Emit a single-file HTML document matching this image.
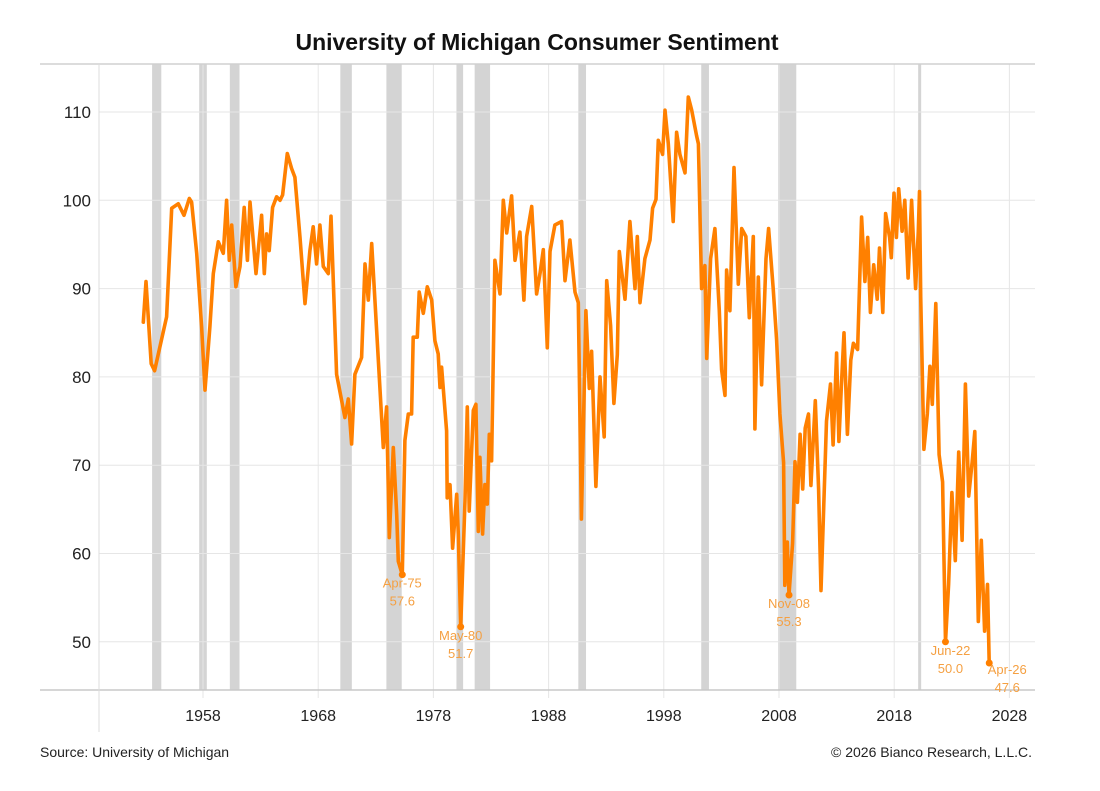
<!DOCTYPE html>
<html><head><meta charset="utf-8"><style>
body{margin:0;background:#fff;font-family:"Liberation Sans",sans-serif}
svg{display:block}
</style></head><body>
<svg id="chart" width="1100" height="791" viewBox="0 0 1100 791" xmlns="http://www.w3.org/2000/svg">
<text x="537" y="50" text-anchor="middle" font-size="23" font-weight="bold" fill="#111">University of Michigan Consumer Sentiment</text>
<g id="rec"></g>
<g id="grid"></g>
<g id="axes"></g>
<g id="series"></g>
<g id="ann"></g>
<text x="40" y="757" font-size="14" fill="#222">Source: University of Michigan</text>
<text x="1032" y="757" text-anchor="end" font-size="14" fill="#222">© 2026 Bianco Research, L.L.C.</text>
</svg>
<script>
const years=[1952.82,1953.05,1953.5,1953.8,1954.26,1954.84,1955.28,1955.86,1956.35,1956.81,1957.01,1957.45,1957.88,1958.17,1958.6,1958.89,1959.33,1959.76,1960.05,1960.28,1960.49,1960.86,1961.21,1961.58,1961.85,1962.08,1962.6,1963.09,1963.32,1963.52,1963.75,1964.04,1964.39,1964.68,1964.91,1965.32,1965.69,1965.98,1966.42,1966.85,1967.28,1967.57,1967.86,1968.15,1968.44,1968.88,1969.11,1969.6,1970.32,1970.61,1970.9,1971.19,1971.77,1972.06,1972.35,1972.64,1973.65,1973.94,1974.17,1974.52,1974.81,1974.95,1975.3,1975.53,1975.82,1976.11,1976.25,1976.6,1976.77,1977.12,1977.47,1977.85,1978.13,1978.42,1978.57,1978.71,1979.15,1979.2,1979.44,1979.67,1980.02,1980.16,1980.37,1980.74,1980.94,1981.11,1981.46,1981.69,1981.9,1982.04,1982.27,1982.47,1982.68,1982.85,1983.05,1983.34,1983.78,1984.07,1984.36,1984.79,1985.08,1985.51,1985.86,1986.09,1986.53,1986.96,1987.25,1987.54,1987.89,1988.12,1988.55,1989.13,1989.42,1989.85,1990.29,1990.58,1990.85,1991.24,1991.53,1991.73,1992.11,1992.46,1992.83,1993.04,1993.38,1993.67,1993.96,1994.14,1994.63,1995.06,1995.5,1995.7,1995.93,1996.36,1996.8,1997.03,1997.32,1997.52,1997.9,1998.1,1998.39,1998.82,1999.11,1999.4,1999.84,2000.13,2000.42,2000.85,2001.0,2001.28,2001.57,2001.72,2002.06,2002.44,2002.82,2003.02,2003.31,2003.45,2003.74,2004.09,2004.47,2004.76,2005.13,2005.42,2005.77,2005.91,2006.2,2006.49,2006.87,2007.1,2007.5,2007.79,2008.08,2008.4,2008.5,2008.72,2008.87,2009.18,2009.39,2009.6,2009.83,2010.06,2010.27,2010.56,2010.77,2011.15,2011.44,2011.65,2012.12,2012.47,2012.7,2013.0,2013.2,2013.41,2013.64,2013.94,2014.23,2014.46,2014.82,2015.17,2015.46,2015.7,2015.93,2016.22,2016.52,2016.72,2017.01,2017.25,2017.6,2017.75,2017.98,2018.19,2018.39,2018.69,2018.92,2019.21,2019.51,2019.86,2020.09,2020.2,2020.3,2020.58,2020.87,2021.1,2021.31,2021.61,2021.9,2022.2,2022.32,2022.45,2022.72,2023.01,2023.3,2023.6,2023.89,2024.18,2024.47,2024.77,2025.0,2025.3,2025.56,2025.85,2026.1,2026.25];
const values=[86.2,90.8,81.5,80.7,83.4,86.8,99.1,99.6,98.3,100.2,99.8,94.0,85.7,78.5,85.7,91.7,95.3,94.0,100.0,93.2,97.2,90.2,92.5,99.2,93.2,99.8,91.7,98.3,91.7,96.2,94.3,99.2,100.4,100.0,100.6,105.3,103.6,102.6,95.8,88.3,94.3,97.0,92.8,97.2,92.5,91.7,98.2,80.3,75.4,77.5,72.4,80.3,82.2,92.8,88.7,95.1,72.0,76.6,61.8,72.0,64.4,59.1,57.6,72.8,75.8,75.8,84.5,84.5,89.6,87.2,90.2,88.7,84.1,82.6,78.8,81.1,73.9,66.3,67.8,60.6,66.7,62.2,51.7,66.0,76.6,64.8,76.2,76.9,62.5,70.9,62.2,67.8,65.6,73.5,70.5,93.2,89.4,100.0,96.3,100.5,93.2,96.4,88.7,95.9,99.3,89.4,91.7,94.4,83.3,94.2,97.2,97.6,90.9,95.5,89.6,88.4,63.9,87.5,78.7,82.9,67.6,80.0,73.2,90.9,85.8,77.0,82.5,94.2,88.8,97.6,90.0,95.9,88.4,93.4,95.5,99.1,100.1,106.8,105.2,110.2,106.4,97.6,107.7,105.2,103.1,111.7,110.2,107.3,106.4,90.0,92.6,82.1,93.4,96.8,87.5,80.8,77.9,92.1,87.5,103.7,90.5,96.8,95.9,86.7,95.9,74.1,91.3,79.1,93.4,96.8,90.0,84.2,75.8,70.3,56.4,61.3,55.3,61.2,70.4,65.8,73.5,67.3,74.2,75.8,67.7,77.3,67.3,55.8,75.0,79.2,72.3,82.7,72.7,78.8,85.0,73.5,81.9,83.8,83.1,98.1,90.8,95.8,87.3,92.7,88.8,94.6,87.3,98.5,95.8,93.5,100.8,95.8,101.3,96.5,100.0,91.2,100.0,90.0,96.5,101.0,89.1,71.8,75.8,81.2,76.9,88.3,71.2,68.1,59.2,50.0,56.5,66.9,59.2,71.5,61.5,79.2,66.5,70.4,73.8,52.3,61.5,51.2,56.5,47.6];
const yTicks=[50,60,70,80,90,100,110];
const xTicks=[1958,1968,1978,1988,1998,2008,2018,2028];
const recStarts=[1953.58,1957.67,1960.33,1969.92,1973.92,1980.0,1981.58,1990.58,2001.25,2007.92,2020.08];
const recEnds=[1954.38,1958.33,1961.17,1970.92,1975.25,1980.58,1982.92,1991.25,2001.92,2009.5,2020.33];
const annYears=[1975.3,1980.37,2008.87,2022.45,2026.25];
const annValues=[57.6,51.7,55.3,50.0,47.6];
const annLabels=["Apr-75","May-80","Nov-08","Jun-22","Apr-26"];

const L=99,R=1035,T=64,B=690;
const xs=y=>203+(y-1958)*11.52;
const ys=v=>112+(110-v)*8.83;
const NS="http://www.w3.org/2000/svg";
function mk(tag,attrs,parent){const e=document.createElementNS(NS,tag);for(const k in attrs)e.setAttribute(k,attrs[k]);parent.appendChild(e);return e;}

const rec=document.getElementById('rec');
recStarts.forEach((s,i)=>{const r=mk('rect',{x:xs(s),y:T,width:Math.max(3,xs(recEnds[i])-xs(s)),height:B-T,fill:'#d4d4d4'},rec);

});

const grid=document.getElementById('grid');
yTicks.forEach(v=>{const l=mk('line',{x1:L,x2:R,y1:ys(v),y2:ys(v),stroke:'#e6e6e6','stroke-width':1},grid);

});
xTicks.forEach(t=>{const l=mk('line',{x1:xs(t),x2:xs(t),y1:T,y2:B+8,stroke:'#e6e6e6','stroke-width':1},grid);

});

const axes=document.getElementById('axes');
const topBorder=mk('line',{x1:40,x2:R,y1:T,y2:T,stroke:'#d0d0d0','stroke-width':1.5},axes);


const ax=mk('line',{x1:40,x2:R,y1:B,y2:B,stroke:'#c8c8c8','stroke-width':1.5},axes);


const ay=mk('line',{x1:L,x2:L,y1:T,y2:732,stroke:'#dcdcdc','stroke-width':1},axes);


yTicks.forEach(v=>{const t=mk('text',{x:91,y:ys(v)+6,'text-anchor':'end','font-size':17,fill:'#222'},axes);t.textContent=v;

});
xTicks.forEach(v=>{const t=mk('text',{x:xs(v),y:721,'text-anchor':'middle','font-size':16,fill:'#222'},axes);t.textContent=v;

});

const ser=document.getElementById('series');
const d=years.map((y,i)=>(i?'L':'M')+xs(y).toFixed(1)+','+ys(values[i]).toFixed(1)).join('');
const p=mk('path',{d:d,fill:'none',stroke:'#ff8000','stroke-width':3.6,'stroke-linejoin':'round','stroke-linecap':'round'},ser);



const ann=document.getElementById('ann');
annYears.forEach((y,i)=>{
const c=mk('circle',{cx:xs(y),cy:ys(annValues[i]),r:3.5,fill:'#ff8000'},ann);


const lx=xs(y)+(i===4?18:(i===3?5:0));
const ly=ys(annValues[i])+13+(i===4?-2:0);
const t1=mk('text',{x:lx,y:ly,'text-anchor':'middle','font-size':13,fill:'#f5a042'},ann);t1.textContent=annLabels[i];


const t2=mk('text',{x:lx,y:ly+18,'text-anchor':'middle','font-size':13,fill:'#f5a042'},ann);t2.textContent=annValues[i].toFixed(1);


});
</script>
</body></html>
